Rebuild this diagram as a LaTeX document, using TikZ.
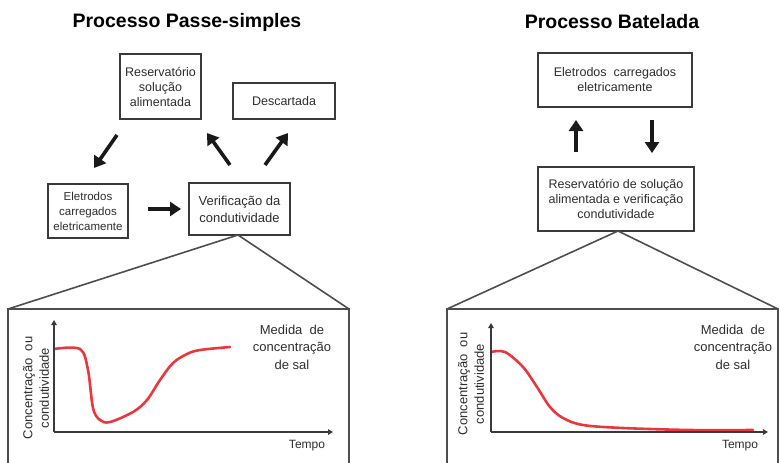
\documentclass[tikz,border=0pt]{standalone}
\usepackage{fontspec}
\setmainfont{Liberation Sans}
\usetikzlibrary{arrows.meta}
\definecolor{txt}{HTML}{2E2E2E}
\definecolor{frame}{HTML}{3A3A3A}
\definecolor{curve}{HTML}{E8383D}
\tikzset{
  box/.style={draw=frame, line width=2.8pt, fill=white, align=center, inner sep=0pt,
    font=\fontsize{12.5}{15}\selectfont, text=txt},
  title/.style={font=\fontsize{19.5}{22}\selectfont\bfseries, text=black},
  lab/.style={font=\fontsize{13}{17.5}\selectfont, text=txt, align=center},
  bigarrow/.style={line width=3.6pt, -{Triangle[length=11pt,width=14pt]}, black!90},
  zoomline/.style={draw=frame!90, line width=1.6pt},
  axis/.style={line width=1.6pt, frame, -{Triangle[length=5pt,width=5.5pt]}},
  redcurve/.style={curve, line width=2.6pt, line cap=round}
}
\begin{document}
\begin{tikzpicture}[x=1pt,y=-1pt]
\useasboundingbox (0,0) rectangle (779,463);
% titles
\node[title] (t1) at (187,22) {Processo Passe-simples};
\node[title] (t2) at (612,22) {Processo Batelada};
% left boxes
\node[box, minimum width=81pt, minimum height=65pt] (res) at (160.5,86.5) {Reservatório\\solução\\alimentada};
\node[box, minimum width=102pt, minimum height=36pt] (desc) at (284,101) {Descartada};
\node[box, minimum width=80pt, minimum height=54pt, font=\fontsize{11.5}{15}\selectfont] (ele) at (88,211) {Eletrodos\\carregados\\eletricamente};
\node[box, minimum width=101pt, minimum height=52pt, font=\fontsize{13}{17}\selectfont] (ver) at (239.5,209) {Verificação da\\condutividade};
% right boxes
\node[box, minimum width=154pt, minimum height=54pt] (ele2) at (615,80) {Eletrodos\ \ carregados\\eletricamente};
\node[box, minimum width=156pt, minimum height=64pt] (res2) at (616,199) {Reservatório\ de solução\\alimentada\ e verificação\\condutividade};
% big arrows
\coordinate (a1s) at (117,135); \coordinate (a1e) at (94,168);
\coordinate (a2s) at (230,165); \coordinate (a2e) at (207,133);
\coordinate (a3s) at (265,165); \coordinate (a3e) at (288,133);
\coordinate (a4s) at (148,209); \coordinate (a4e) at (181,209);
\coordinate (a5s) at (576,152); \coordinate (a5e) at (576,120);
\coordinate (a6s) at (652,120); \coordinate (a6e) at (652,153);
\draw[bigarrow] (a1s) -- (a1e);
\draw[bigarrow] (a2s) -- (a2e);
\draw[bigarrow] (a3s) -- (a3e);
\draw[bigarrow] (a4s) -- (a4e);
\draw[bigarrow] (a5s) -- (a5e);
\draw[bigarrow] (a6s) -- (a6e);
% zoom frames left
\coordinate (p1tl) at (8,309); \coordinate (p1tr) at (349,309);
\coordinate (p1bl) at (8,463); \coordinate (p1br) at (349,463);
\coordinate (v1) at (238,235);
\draw[zoomline] (v1) -- (p1tl);
\draw[zoomline] (v1) -- (p1tr);
\draw[zoomline] (p1bl) -- (p1tl) -- (p1tr) -- (p1br);
% zoom frames right
\coordinate (p2tl) at (447,309); \coordinate (p2tr) at (778,309);
\coordinate (p2bl) at (447,463); \coordinate (p2br) at (778,463);
\coordinate (v2) at (618,231);
\draw[zoomline] (v2) -- (p2tl);
\draw[zoomline] (v2) -- (p2tr);
\draw[zoomline] (p2bl) -- (p2tl) -- (p2tr) -- (p2br);
% plot 1
\coordinate (o1) at (54,432);
\coordinate (y1) at (54,320);
\coordinate (x1) at (333,432);
\draw[redcurve] plot[smooth, tension=0.55] coordinates {(54,349) (80,349) (88,370) (93,408) (100,420) (110,422) (133,412) (147,400) (160,380) (173,363) (187,354) (200,350) (230,347)};
\draw[axis] (o1) -- (y1);
\draw[axis] (o1) -- (x1);
\node[lab] (m1) at (292,347) {Medida\ \ de\\concentração\\de sal};
\node[lab, font=\fontsize{12}{14}\selectfont] (tp1) at (307,446) {Tempo};
\node[lab, rotate=90, font=\fontsize{13}{16.5}\selectfont] (yl1) at (36,388) {Concentração\ \ ou\\condutividade};
% plot 2
\coordinate (o2) at (491,432);
\coordinate (y2) at (491,323);
\coordinate (x2) at (768,432);
\draw[redcurve] plot[smooth, tension=0.55] coordinates {(491,352) (505,352) (523,367) (537,387) (550,407) (563,418) (583,425) (623,428) (690,430) (753,430)};
\draw[axis] (o2) -- (y2);
\draw[axis] (o2) -- (x2);
\node[lab] (m2) at (733,347) {Medida\ \ de\\concentração\\de sal};
\node[lab, font=\fontsize{12}{14}\selectfont] (tp2) at (740,446) {Tempo};
\node[lab, rotate=90, font=\fontsize{13}{16.5}\selectfont] (yl2) at (471,384) {Concentração\ \ ou\\condutividade};
\end{tikzpicture}
\end{document}
